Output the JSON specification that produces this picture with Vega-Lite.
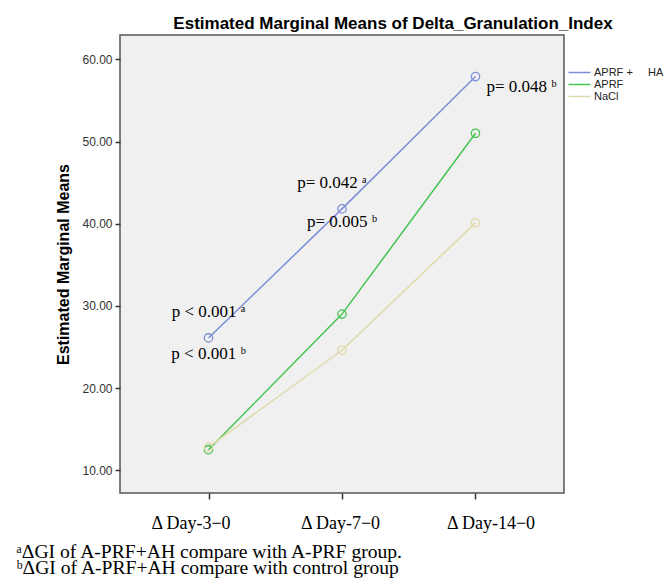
{
  "$schema": "https://vega.github.io/schema/vega-lite/v6.json",
  "width": 444,
  "height": 458,
  "autosize": "none",
  "padding": {"left": 120, "top": 35, "right": 103, "bottom": 86},
  "background": "white",
  "title": {
    "text": "Estimated Marginal Means of Delta_Granulation_Index",
    "font": "Liberation Sans",
    "fontSize": 17,
    "fontWeight": "bold",
    "color": "#000000",
    "anchor": "middle",
    "dx": 51,
    "dy": 18,
    "baseline": "alphabetic",
    "offset": 7
  },
  "datasets": {
    "means": [
      {"day": "Δ Day-3−0", "group": "APRF + HA", "mean": 26.1},
      {"day": "Δ Day-7−0", "group": "APRF + HA", "mean": 41.8},
      {"day": "Δ Day-14−0", "group": "APRF + HA", "mean": 57.9},
      {"day": "Δ Day-3−0", "group": "APRF", "mean": 12.5},
      {"day": "Δ Day-7−0", "group": "APRF", "mean": 29.0},
      {"day": "Δ Day-14−0", "group": "APRF", "mean": 51.0},
      {"day": "Δ Day-3−0", "group": "NaCl", "mean": 12.8},
      {"day": "Δ Day-7−0", "group": "NaCl", "mean": 24.6},
      {"day": "Δ Day-14−0", "group": "NaCl", "mean": 40.1}
    ],
    "notes": [
      {"day": "Δ Day-3−0", "y": 29.3, "label": "p < 0.001 ᵃ", "place": "center"},
      {"day": "Δ Day-3−0", "y": 24.1, "label": "p < 0.001 ᵇ", "place": "center"},
      {"day": "Δ Day-7−0", "y": 45.0, "label": "p= 0.042 ᵃ", "place": "left-of"},
      {"day": "Δ Day-7−0", "y": 40.2, "label": "p= 0.005 ᵇ", "place": "center"},
      {"day": "Δ Day-14−0", "y": 56.6, "label": "p= 0.048 ᵇ", "place": "right"}
    ]
  },
  "encoding": {
    "x": {
      "field": "day",
      "type": "nominal",
      "sort": ["Δ Day-3−0", "Δ Day-7−0", "Δ Day-14−0"],
      "scale": {"type": "point", "padding": 0.663},
      "axis": {
        "labelAngle": 0,
        "labelFont": "Liberation Serif",
        "labelFontSize": 18,
        "labelColor": "#000000",
        "labelPadding": 15,
        "labelOffset": {
          "condition": [
            {"test": "datum.value == 'Δ Day-3−0'", "value": -18},
            {"test": "datum.value == 'Δ Day-14−0'", "value": 15}
          ],
          "value": -2
        },
        "tickSize": 6,
        "tickColor": "#333333",
        "tickWidth": 1.5,
        "domain": false,
        "grid": false,
        "title": ["ᵃΔGI of A-PRF+AH compare with A-PRF group.", "ᵇΔGI  of  A-PRF+AH compare with control group"],
        "titleFont": "Liberation Serif",
        "titleFontSize": 19.6,
        "titleFontWeight": "normal",
        "titleColor": "#000000",
        "titleAlign": "left",
        "titleAnchor": "start",
        "titleBaseline": "alphabetic",
        "titleX": -104,
        "titleY": 64,
        "titleLineHeight": 16
      }
    }
  },
  "layer": [
    {
      "data": {"name": "means"},
      "mark": {"type": "line", "strokeWidth": 1.5},
      "encoding": {
        "y": {
          "field": "mean",
          "type": "quantitative",
          "scale": {"domain": [7.23, 62.96], "nice": false, "zero": false},
          "axis": {
            "values": [10, 20, 30, 40, 50, 60],
            "format": ".2f",
            "labelFont": "Liberation Sans",
            "labelFontSize": 12,
            "labelColor": "#333333",
            "labelPadding": 3,
            "tickSize": 5,
            "tickColor": "#333333",
            "tickWidth": 1.5,
            "domain": false,
            "grid": false,
            "title": "Estimated Marginal Means",
            "titleFont": "Liberation Sans",
            "titleFontSize": 16,
            "titleFontWeight": "bold",
            "titleColor": "#000000",
            "titlePadding": 10
          }
        },
        "color": {
          "field": "group",
          "type": "nominal",
          "scale": {
            "domain": ["APRF + HA", "APRF", "NaCl"],
            "range": ["#7d8ed6", "#45c452", "#dedaa9"]
          },
          "legend": {
            "title": null,
            "orient": "none",
            "legendX": 453,
            "legendY": 31,
            "padding": 0,
            "symbolType": "M-2,0L2,0",
            "symbolSize": 121,
            "symbolStrokeWidth": 1.5,
            "labelFont": "Liberation Sans",
            "labelFontSize": 11,
            "labelColor": "#222222",
            "labelOffset": 8,
            "rowPadding": -1,
            "labelExpr": "datum.label == 'APRF + HA' ? 'APRF +\u00a0\u00a0\u00a0\u00a0\u00a0HA' : datum.label"
          }
        }
      }
    },
    {
      "data": {"name": "means"},
      "mark": {"type": "point", "filled": false, "size": 70, "strokeWidth": 1.3, "opacity": 1},
      "encoding": {
        "y": {"field": "mean", "type": "quantitative"},
        "color": {"field": "group", "type": "nominal"}
      }
    },
    {
      "data": {"name": "notes"},
      "transform": [{"filter": "datum.place == 'center'"}],
      "mark": {"type": "text", "font": "Liberation Serif", "fontSize": 17, "align": "center", "baseline": "middle", "color": "#000000"},
      "encoding": {
        "y": {"field": "y", "type": "quantitative"},
        "text": {"field": "label"}
      }
    },
    {
      "data": {"name": "notes"},
      "transform": [{"filter": "datum.place == 'left-of'"}],
      "mark": {"type": "text", "font": "Liberation Serif", "fontSize": 17, "align": "center", "baseline": "middle", "dx": -10, "color": "#000000"},
      "encoding": {
        "y": {"field": "y", "type": "quantitative"},
        "text": {"field": "label"}
      }
    },
    {
      "data": {"name": "notes"},
      "transform": [{"filter": "datum.place == 'right'"}],
      "mark": {"type": "text", "font": "Liberation Serif", "fontSize": 17, "align": "left", "baseline": "middle", "dx": 11, "color": "#000000"},
      "encoding": {
        "y": {"field": "y", "type": "quantitative"},
        "text": {"field": "label"}
      }
    }
  ],
  "config": {
    "view": {"fill": "#f0f0f0", "stroke": "#555555", "strokeWidth": 1.5}
  }
}
